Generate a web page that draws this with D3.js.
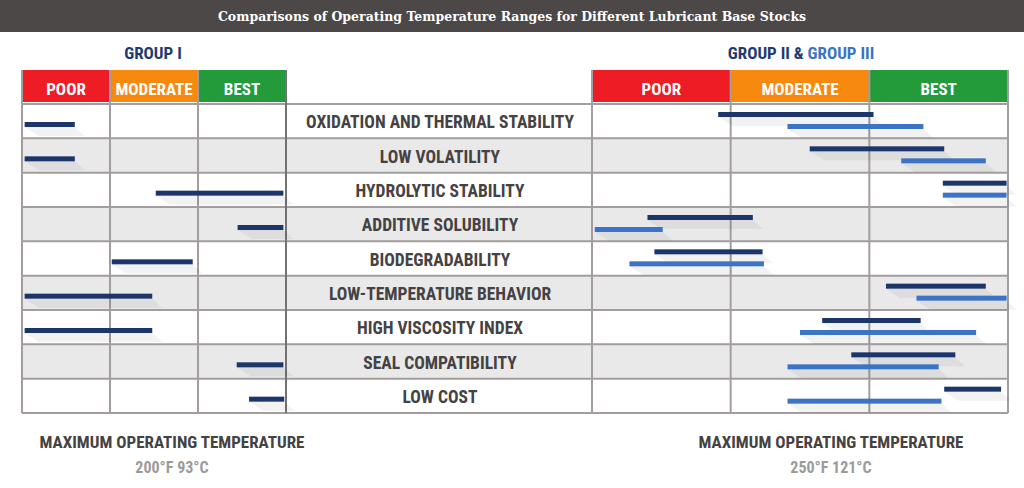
<!DOCTYPE html>
<html><head><meta charset="utf-8">
<script src="https://cdn.jsdelivr.net/npm/d3@7"></script>
<style>body{margin:0;background:#fff}</style>
</head><body>
<svg id="chart" width="1024" height="488"></svg>
<script>
// properties down the middle
var properties = ["OXIDATION AND THERMAL STABILITY", "LOW VOLATILITY", "HYDROLYTIC STABILITY",
  "ADDITIVE SOLUBILITY", "BIODEGRADABILITY", "LOW-TEMPERATURE BEHAVIOR",
  "HIGH VISCOSITY INDEX", "SEAL COMPATIBILITY", "LOW COST"];
var ratings = ["POOR", "MODERATE", "BEST"];
var ratingColors = ["#ee1c25", "#f7890f", "#249b3a"];

// ranges on a 0 (poor) .. 3 (best) scale
var group1 = [[0.03,0.6],[0.03,0.6],[1.52,2.97],[2.45,2.97],[1.02,1.94],[0.03,1.48],[0.03,1.48],[2.44,2.97],[2.58,2.98]];
var group2 = [[0.91,2.03],[1.57,2.54],[2.53,2.99],[0.40,1.16],[0.45,1.23],[2.12,2.84],[1.66,2.37],[1.87,2.62],[2.54,2.95]];
var group3 = [[1.41,2.39],[2.23,2.84],[2.53,2.99],[0.02,0.51],[0.27,1.24],[2.34,2.99],[1.50,2.77],[1.41,2.50],[1.41,2.52]];

var svg = d3.select("#chart");
var cond = "'Roboto Condensed','DejaVu Sans Condensed','Liberation Sans Narrow',Roboto,sans-serif";

// title bar
svg.append("rect").attr("width", 1024).attr("height", 32).attr("fill", "#4b4847");
svg.append("text").attr("x", 512).attr("y", 21).attr("text-anchor", "middle")
  .attr("fill", "#fff").attr("font-family", "'DejaVu Serif',serif").attr("font-weight", "bold")
  .attr("font-size", 12.5).text("Comparisons of Operating Temperature Ranges for Different Lubricant Base Stocks");

var y = d3.scaleBand().domain(d3.range(properties.length)).range([104, 413]);
var xL = d3.scaleLinear().domain([0, 3]).range([22, 286]);
var xR = d3.scaleLinear().domain([0, 3]).range([592, 1008]);

// row backgrounds
properties.forEach(function(p, i) {
  svg.append("rect").attr("x", 22).attr("y", y(i)).attr("width", 986).attr("height", y.bandwidth())
    .attr("fill", i % 2 ? "#e8e9e8" : "#fff");
});

// rating headers
[xL, xR].forEach(function(x) {
  ratings.forEach(function(r, k) {
    svg.append("rect").attr("x", x(k)).attr("y", 70).attr("width", x(k + 1) - x(k)).attr("height", 32)
      .attr("fill", ratingColors[k]);
    svg.append("text").attr("x", (x(k) + x(k + 1)) / 2).attr("y", 95).attr("text-anchor", "middle")
      .attr("fill", "#fff").attr("font-family", cond).attr("font-weight", "bold").attr("font-size", 17)
      .text(r);
  });
});

// horizontal grid lines
d3.range(properties.length + 1).forEach(function(i) {
  var yy = i < properties.length ? y(i) : 413;
  svg.append("line").attr("x1", 22).attr("x2", 1008).attr("y1", yy).attr("y2", yy)
    .attr("stroke", "#a39d9d").attr("stroke-width", 2);
});
// vertical grid lines
[xL, xR].forEach(function(x) {
  d3.range(4).forEach(function(k) {
    svg.append("line").attr("x1", x(k)).attr("x2", x(k)).attr("y1", 70).attr("y2", 413)
      .attr("stroke", "#a39d9d").attr("stroke-width", 2);
  });
});
svg.append("line").attr("x1", 286).attr("x2", 286).attr("y1", 70).attr("y2", 413)
  .attr("stroke", "#555").attr("stroke-width", 1.2);

// property labels
properties.forEach(function(p, i) {
  svg.append("text").attr("x", 440).attr("y", y(i) + y.bandwidth() / 2 + 7).attr("text-anchor", "middle")
    .attr("fill", "#454243").attr("font-family", cond).attr("font-weight", "bold").attr("font-size", 17.5)
    .text(p);
});

// faint shadows + bars
function bars(data, x, offset, color) {
  data.forEach(function(d, i) {
    var yy = y(i) + offset;
    svg.append("polygon")
      .attr("points", [[x(d[0]), yy + 5], [x(d[1]), yy + 5], [x(d[1]) + 10, yy + 14], [x(d[0]) + 14, yy + 14]].join(" "))
      .attr("fill", "#000").attr("opacity", 0.05);
    svg.append("rect").attr("x", x(d[0])).attr("y", yy).attr("width", x(d[1]) - x(d[0])).attr("height", 5)
      .attr("fill", color);
  });
}
bars(group1, xL, 18, "#1c356b");
bars(group2, xR, 8, "#1c356b");
bars(group3, xR, 20, "#3b74c4");

// group titles
svg.append("text").attr("x", 153).attr("y", 59).attr("text-anchor", "middle").attr("fill", "#1f3a6e")
  .attr("font-family", cond).attr("font-weight", "bold").attr("font-size", 17).text("GROUP I");
var g = svg.append("text").attr("x", 801).attr("y", 59).attr("text-anchor", "middle")
  .attr("font-family", cond).attr("font-weight", "bold").attr("font-size", 17);
g.append("tspan").attr("fill", "#1f3a6e").text("GROUP II & ");
g.append("tspan").attr("fill", "#3b74c4").text("GROUP III");

// footer
[[172, "200°F   93°C"], [831, "250°F   121°C"]].forEach(function(f) {
  svg.append("text").attr("x", f[0]).attr("y", 448).attr("text-anchor", "middle").attr("fill", "#454243")
    .attr("font-family", cond).attr("font-weight", "bold").attr("font-size", 17).text("MAXIMUM OPERATING TEMPERATURE");
  svg.append("text").attr("x", f[0]).attr("y", 473).attr("text-anchor", "middle").attr("fill", "#9b9b9b")
    .attr("font-family", cond).attr("font-weight", "bold").attr("font-size", 16).text(f[1]);
});
</script>
</body></html>
